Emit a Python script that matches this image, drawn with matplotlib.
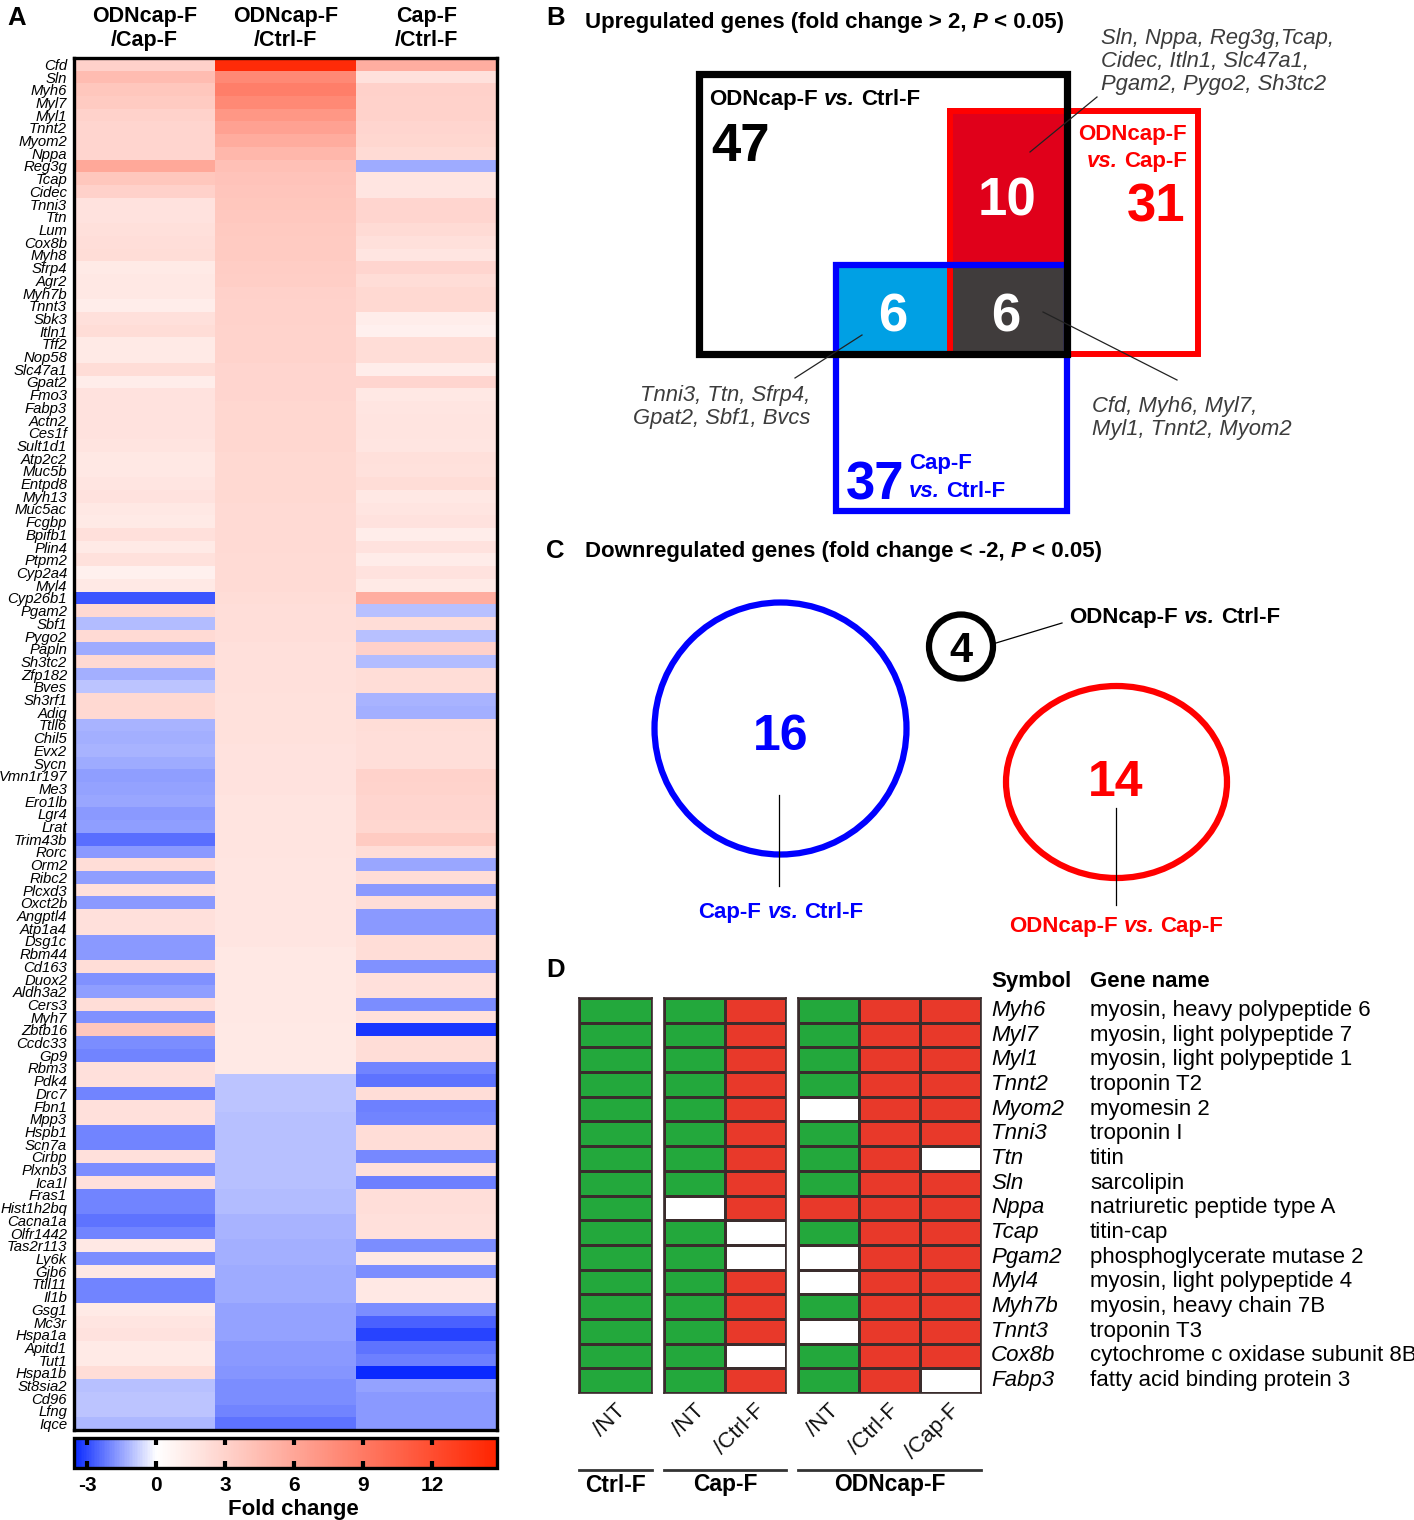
import numpy as np
import matplotlib
matplotlib.use('Agg')
import matplotlib.pyplot as plt
from matplotlib.colors import LinearSegmentedColormap, ListedColormap, Normalize
from matplotlib.patches import Rectangle, Ellipse
import matplotlib.transforms as mtransforms
import matplotlib.font_manager as fm
import matplotlib.cm as cm

# ---------------- DATA ----------------
genes = ["Cfd", "Sln", "Myh6", "Myl7", "Myl1", "Tnnt2", "Myom2", "Nppa", "Reg3g", "Tcap",
         "Cidec", "Tnni3", "Ttn", "Lum", "Cox8b", "Myh8", "Sfrp4", "Agr2", "Myh7b", "Tnnt3",
         "Sbk3", "Itln1", "Tff2", "Nop58", "Slc47a1", "Gpat2", "Fmo3", "Fabp3", "Actn2", "Ces1f",
         "Sult1d1", "Atp2c2", "Muc5b", "Entpd8", "Myh13", "Muc5ac", "Fcgbp", "Bpifb1", "Plin4", "Ptpm2",
         "Cyp2a4", "Myl4", "Cyp26b1", "Pgam2", "Sbf1", "Pygo2", "Papln", "Sh3tc2", "Zfp182", "Bves",
         "Sh3rf1", "Adig", "Ttll6", "Chil5", "Evx2", "Sycn", "Vmn1r197", "Me3", "Ero1lb", "Lgr4",
         "Lrat", "Trim43b", "Rorc", "Orm2", "Ribc2", "Plcxd3", "Oxct2b", "Angptl4", "Atp1a4", "Dsg1c",
         "Rbm44", "Cd163", "Duox2", "Aldh3a2", "Cers3", "Myh7", "Zbtb16", "Ccdc33", "Gp9", "Rbm3",
         "Pdk4", "Drc7", "Fbn1", "Mpp3", "Hspb1", "Scn7a", "Cirbp", "Plxnb3", "Ica1l", "Fras1",
         "Hist1h2bq", "Cacna1a", "Olfr1442", "Tas2r113", "Ly6k", "Gjb6", "Ttll11", "Il1b", "Gsg1", "Mc3r",
         "Hspa1a", "Apitd1", "Tut1", "Hspa1b", "St8sia2", "Cd96", "Lfng", "Iqce"]

fc_odn_vs_cap = [3.1, 4.5, 3.8, 3.5, 3.0, 2.8, 2.8, 2.8, 5.9, 3.8,
                 3.1, 1.9, 1.9, 2.1, 2.2, 2.3, 1.4, 1.6, 1.6, 1.2,
                 2.1, 2.3, 1.4, 1.4, 2.3, 1.2, 1.9, 1.9, 1.9, 1.9,
                 1.8, 1.6, 1.6, 1.7, 1.9, 1.6, 1.4, 2.1, 1.4, 2.0,
                 1.0, 1.5, -2.8, 2.6, -1.1, 2.5, -1.4, 2.6, -1.3, -0.95,
                 2.6, 2.6, -1.2, -1.3, -1.2, -1.4, -1.6, -1.5, -1.45, -1.7,
                 -1.6, -2.35, -1.7, 2.3, -1.6, 2.1, -1.7, 2.1, 2.1, -1.7,
                 -1.7, 2.3, -1.8, -1.6, 2.3, -1.8, 3.8, -1.9, -2.05, 2.1,
                 2.1, -2.0, 2.1, 2.1, -2.0, -2.0, 2.1, -1.9, 2.1, -2.0,
                 -2.05, -2.3, -2.05, 1.6, -1.9, 1.6, -2.05, -2.05, 1.4, 1.7,
                 1.9, 1.4, 1.4, 2.3, -1.0, -0.95, -0.95, -1.15]

fc_odn_vs_ctrl = [14.3, 8.0, 8.7, 8.0, 7.0, 6.3, 5.6, 4.9, 4.2, 4.0,
                  3.9, 3.8, 3.7, 3.6, 3.5, 3.5, 3.4, 3.3, 3.1, 3.0,
                  3.0, 2.9, 2.9, 2.9, 2.8, 2.8, 2.8, 2.7, 2.7, 2.7,
                  2.7, 2.6, 2.6, 2.6, 2.6, 2.5, 2.5, 2.5, 2.5, 2.4,
                  2.4, 2.4, 2.3, 2.2, 2.2, 2.2, 2.1, 2.1, 2.1, 2.1,
                  2.0, 2.0, 2.0, 2.0, 1.9, 1.9, 1.9, 1.9, 1.8, 1.8,
                  1.8, 1.8, 1.8, 1.7, 1.7, 1.7, 1.7, 1.7, 1.7, 1.7,
                  1.6, 1.6, 1.6, 1.6, 1.6, 1.6, 1.5, 1.5, 1.5, 1.5,
                  -0.95, -0.95, -0.95, -1.0, -1.0, -1.0, -1.0, -1.05, -1.05, -1.1,
                  -1.1, -1.2, -1.25, -1.3, -1.3, -1.35, -1.4, -1.4, -1.5, -1.5,
                  -1.55, -1.7, -1.7, -1.75, -1.9, -1.9, -2.0, -2.3]

fc_cap_vs_ctrl = [5.5, 2.0, 3.1, 3.0, 3.0, 2.8, 2.7, 2.4, -1.4, 1.7,
                  1.7, 2.8, 2.8, 2.4, 2.1, 1.7, 2.8, 2.3, 2.6, 2.6,
                  1.2, 1.0, 2.3, 2.3, 1.2, 2.8, 1.6, 1.7, 1.8, 1.8,
                  1.7, 2.1, 2.0, 2.3, 1.6, 1.7, 1.9, 1.2, 1.9, 1.3,
                  1.9, 1.4, 5.5, -1.0, 2.3, -1.0, 3.1, -1.1, 2.3, 2.3,
                  -1.25, -1.3, 2.3, 2.2, 2.2, 2.2, 3.0, 2.9, 2.8, 2.8,
                  2.7, 3.5, 2.3, -1.45, 2.3, -1.65, 2.3, -1.7, -1.7, 2.3,
                  2.3, -1.8, 2.1, 2.1, -1.9, 2.1, -3.3, 2.3, 2.3, -2.0,
                  -2.3, 2.3, -2.1, -2.05, 2.3, 2.3, -1.95, 2.1, -2.1, 2.2,
                  2.2, 2.1, 2.1, -1.9, 1.6, -1.9, 1.6, 1.6, -1.9, -2.6,
                  -3.1, -2.3, -2.1, -3.5, -1.5, -1.65, -1.7, -1.7]

heat_columns = ["ODNcap-F\n/Cap-F", "ODNcap-F\n/Ctrl-F", "Cap-F\n/Ctrl-F"]
cbar_ticks = [-3, 0, 3, 6, 9, 12]
fc_min, fc_max = -3.57, 14.83

# Venn (upregulated) counts
up_counts = [47, 10, 31, 6, 6, 37]   # ODN/Ctrl only, ODN/Ctrl&ODN/Cap, ODN/Cap only, ODN/Ctrl&Cap/Ctrl, all three, Cap/Ctrl only
# Downregulated counts
down_counts = [16, 4, 14]            # Cap/Ctrl, ODN/Ctrl, ODN/Cap

# Panel D
d_symbols = ["Myh6", "Myl7", "Myl1", "Tnnt2", "Myom2", "Tnni3", "Ttn", "Sln", "Nppa", "Tcap",
             "Pgam2", "Myl4", "Myh7b", "Tnnt3", "Cox8b", "Fabp3"]
d_names = ["myosin, heavy polypeptide 6", "myosin, light polypeptide 7", "myosin, light polypeptide 1",
           "troponin T2", "myomesin 2", "troponin I", "titin", "sarcolipin", "natriuretic peptide type A",
           "titin-cap", "phosphoglycerate mutase 2", "myosin, light polypeptide 4", "myosin, heavy chain 7B",
           "troponin T3", "cytochrome c oxidase subunit 8B", "fatty acid binding protein 3"]
# 1 = up (red), -1 = down (green), 0 = unchanged (white)
ctrl_nt = [-1] * 16
cap_nt = [-1, -1, -1, -1, -1, -1, -1, -1, 0, -1, -1, -1, -1, -1, -1, -1]
cap_ctrl = [1, 1, 1, 1, 1, 1, 1, 1, 1, 0, 0, 1, 1, 1, 0, 1]
odn_nt = [-1, -1, -1, -1, 0, -1, -1, -1, 1, -1, 0, 0, -1, 0, -1, -1]
odn_ctrl = [1] * 16
odn_cap = [1, 1, 1, 1, 1, 1, 0, 1, 1, 1, 1, 1, 1, 1, 1, 0]
d_groups = ["Ctrl-F", "Cap-F", "ODNcap-F"]
d_cols = [["/NT"], ["/NT", "/Ctrl-F"], ["/NT", "/Ctrl-F", "/Cap-F"]]

# ---------------- SETUP ----------------
names = {f.name for f in fm.fontManager.ttflist}
SANS = 'Liberation Sans'
COND = 'Liberation Sans Narrow' if 'Liberation Sans Narrow' in names else 'Liberation Sans'
plt.rcParams['font.family'] = [SANS, 'DejaVu Sans']

W, H = 1414, 1520
fig = plt.figure(figsize=(W / 100, H / 100), dpi=100)


def px_axes(l, t, r, b, **kw):
    return fig.add_axes([l / W, 1 - b / H, (r - l) / W, (b - t) / H], **kw)


# ---------------- PANEL A ----------------
wpos = (0 - fc_min) / (fc_max - fc_min)
cmap = LinearSegmentedColormap.from_list('fc', [(0, '#0a2aff'), (wpos, '#ffffff'), (1, '#ff2400')])
norm = Normalize(vmin=fc_min, vmax=fc_max)

axA = px_axes(74, 58, 497, 1430)
data = np.column_stack([fc_odn_vs_cap, fc_odn_vs_ctrl, fc_cap_vs_ctrl])
axA.imshow(data, cmap=cmap, norm=norm, aspect='auto', interpolation='nearest')
axA.set_yticks(range(len(genes)))
axA.set_yticklabels(genes, fontstyle='italic', fontsize=10.7)
axA.tick_params(axis='y', length=0, pad=5)
axA.xaxis.tick_top()
axA.set_xticks(range(3))
axA.set_xticklabels(heat_columns, fontweight='bold', fontsize=15.5, linespacing=1.2)
axA.tick_params(axis='x', length=0, pad=5)
for sp in axA.spines.values():
    sp.set_linewidth(2.4)

cax = px_axes(74, 1438, 497, 1468)
cb = fig.colorbar(cm.ScalarMappable(norm=norm, cmap=cmap), cax=cax, orientation='horizontal')
cb.set_ticks(cbar_ticks)
cb.ax.set_xticklabels([str(t) for t in cbar_ticks], fontweight='bold', fontsize=15)
cb.ax.tick_params(axis='x', direction='in', length=5, width=3, top=True, bottom=True, pad=6)
cb.outline.set_linewidth(2.4)

# ---------------- OVERLAY ----------------
ov = fig.add_axes([0, 0, 1, 1], zorder=5)
ov.set_xlim(0, W)
ov.set_ylim(H, 0)
ov.axis('off')
renderer = fig.canvas.get_renderer()


def measure(s, **kw):
    t = ov.text(0, 0, s, **kw)
    w = t.get_window_extent(renderer).width
    t.remove()
    return w


def rich(x, yc, parts, ha='left', size=14, family=COND, weight='bold', color='black', style='normal'):
    """parts: list of (text, override dict). yc is the visual cap-centre."""
    base = dict(fontsize=size, family=family, fontweight=weight, color=color, fontstyle=style)
    sp = measure('a a', **base) - measure('aa', **base)
    items = []
    for s, o in parts:
        kw = dict(base)
        kw.update(o)
        if s == ' ':
            items.append((None, kw, sp))
        else:
            items.append((s, kw, measure(s, **kw)))
    total = sum(w for _, _, w in items)
    x0 = {'left': x, 'center': x - total / 2, 'right': x - total}[ha]
    yb = yc + 0.36 * size * 100 / 72
    for s, kw, w in items:
        if s is not None:
            ov.text(x0, yb, s, ha='left', va='baseline', **kw)
        x0 += w


def vs_parts(a, b):
    return [(a, {}), (' ', {}), ('vs.', {'fontstyle': 'italic'}), (' ', {}), (b, {})]


LBL = 16
# panel letters
for letter, x, y in [('A', 7, 16), ('B', 546, 16), ('C', 546, 549), ('D', 546, 968)]:
    rich(x, y, [(letter, {})], size=18.5, family=SANS)

# ---------------- PANEL B ----------------
rich(585, 20, [("Upregulated genes (fold change > 2, ", {}), ("P", {'fontstyle': 'italic'}), (" < 0.05)", {})], size=16)

RED, BLUE, BLACK = '#ff0000', '#0000ff', '#000000'
# fills
ov.add_patch(Rectangle((947, 108), 1065 - 947, 265 - 108, facecolor='#e0001a', edgecolor='none', zorder=1))
ov.add_patch(Rectangle((836, 266), 949 - 836, 352 - 266, facecolor='#00a0e4', edgecolor='none', zorder=1))
ov.add_patch(Rectangle((949, 266), 1065 - 949, 352 - 266, facecolor='#403c3c', edgecolor='none', zorder=1))
# outlines
ov.add_patch(Rectangle((949.5, 110.5), 1198 - 949.5, 354 - 110.5, facecolor='none', edgecolor=RED, lw=4.3, zorder=2))
ov.add_patch(Rectangle((835.5, 265), 1067 - 835.5, 510.5 - 265, facecolor='none', edgecolor=BLUE, lw=4.5, zorder=3))
ov.add_patch(Rectangle((698.5, 73.5), 1067 - 698.5, 353.5 - 73.5, facecolor='none', edgecolor=BLACK, lw=5.2, zorder=4))

rich(709, 97, vs_parts("ODNcap-F", "Ctrl-F"), size=LBL)
rich(711, 142, [(str(up_counts[0]), {})], size=38)
rich(1007, 196, [(str(up_counts[1]), {})], size=38, ha='center', color='white')
rich(1187, 132, [("ODNcap-F", {})], ha='right', size=LBL, color=RED)
rich(1187, 159, [("vs.", {'fontstyle': 'italic'}), (' ', {}), ("Cap-F", {})], ha='right', size=LBL, color=RED)
rich(1185, 202, [(str(up_counts[2]), {})], ha='right', size=38, color=RED)
rich(893, 313, [(str(up_counts[3]), {})], ha='center', size=38, color='white')
rich(1006, 313, [(str(up_counts[4]), {})], ha='center', size=38, color='white')
rich(846, 481, [(str(up_counts[5]), {})], size=38, color=BLUE)
rich(909, 461, [("Cap-F", {})], size=LBL, color=BLUE)
rich(909, 489, [("vs.", {'fontstyle': 'italic'}), (' ', {}), ("Ctrl-F", {})], size=LBL, color=BLUE)

GRAY = '#3c3c3c'
for i, line in enumerate(["Sln, Nppa, Reg3g,Tcap,", "Cidec, Itln1, Slc47a1,", "Pgam2, Pygo2, Sh3tc2"]):
    rich(1101, 36 + 23 * i, [(line, {})], size=15.8, weight='normal', style='italic', color=GRAY)
for i, line in enumerate(["Tnni3, Ttn, Sfrp4,", "Gpat2, Sbf1, Bvcs"]):
    rich(810, 393 + 23 * i, [(line, {})], ha='right', size=15.8, weight='normal', style='italic', color=GRAY)
for i, line in enumerate(["Cfd, Myh6, Myl7,", "Myl1, Tnnt2, Myom2"]):
    rich(1092, 404 + 23 * i, [(line, {})], size=15.8, weight='normal', style='italic', color=GRAY)
ov.plot([1030, 1097], [152, 97], color='#222222', lw=0.9, zorder=6)
ov.plot([862, 795], [335, 378], color='#222222', lw=0.9, zorder=6)
ov.plot([1043, 1177], [312, 380], color='#222222', lw=0.9, zorder=6)

# ---------------- PANEL C ----------------
rich(585, 549, [("Downregulated genes (fold change < -2, ", {}), ("P", {'fontstyle': 'italic'}), (" < 0.05)", {})], size=16)
ov.add_patch(Ellipse((780.5, 728.5), 252, 252, facecolor='none', edgecolor=BLUE, lw=4.5))
ov.add_patch(Ellipse((1116.5, 782), 221, 192, facecolor='none', edgecolor=RED, lw=4.5))
ov.add_patch(Ellipse((961, 646.5), 64, 64, facecolor='none', edgecolor=BLACK, lw=4.5))
rich(781, 732, [(str(down_counts[0]), {})], ha='center', size=36, color=BLUE)
rich(961, 647, [(str(down_counts[1]), {})], ha='center', size=30, color=BLACK)
rich(1116, 778, [(str(down_counts[2]), {})], ha='center', size=36, color=RED)
ov.plot([779, 779], [795, 886], color='black', lw=0.9)
ov.plot([1116, 1116], [808, 905], color='black', lw=0.9)
ov.plot([996, 1062], [643, 623], color='black', lw=0.9)
rich(1069, 615, vs_parts("ODNcap-F", "Ctrl-F"), size=LBL)
rich(781, 910, vs_parts("Cap-F", "Ctrl-F"), ha='center', size=LBL, color=BLUE)
rich(1116, 924, vs_parts("ODNcap-F", "Cap-F"), ha='center', size=LBL, color=RED)

# ---------------- PANEL D ----------------
GREEN, DRED = '#23a83c', '#e8392a'
dcmap = ListedColormap([GREEN, '#ffffff', DRED])
blocks = [(579, 652, [ctrl_nt]), (664, 786, [cap_nt, cap_ctrl]), (798, 981, [odn_nt, odn_ctrl, odn_cap])]
top, bot = 998, 1393
nrow = len(d_symbols)
axes_d = []
for (l, r, cols), grp, labels in zip(blocks, d_groups, d_cols):
    ax = px_axes(l, top, r, bot)
    arr = np.array(cols).T
    ax.pcolormesh(np.arange(arr.shape[1] + 1), np.arange(nrow + 1), arr, cmap=dcmap, vmin=-1.5, vmax=1.5,
                  edgecolors='#3a2c2c', linewidth=1.0)
    ax.set_xlim(0, arr.shape[1])
    ax.set_ylim(nrow, 0)
    ax.set_xticks([])
    ax.set_yticks([])
    for sp in ax.spines.values():
        sp.set_linewidth(1.2)
        sp.set_color('#3a2c2c')
    bt = mtransforms.blended_transform_factory(ax.transData, ax.transAxes)
    hgt = bot - top
    for j, lab in enumerate(labels):
        ax.text(j + 0.5 + 14 / ((r - l) / arr.shape[1]), -(1400 - bot) / hgt, lab, transform=bt,
                rotation=45, ha='right', va='top', fontsize=16, color='#111111')
    ax.plot([0, 1], [-(1470 - bot) / hgt] * 2, transform=ax.transAxes, clip_on=False, color='#333333', lw=2)
    ax.text(0.5, -(1485 - bot) / hgt, grp, transform=ax.transAxes, ha='center', va='center',
            fontsize=16.5, fontweight='bold')
    axes_d.append((ax, l, r))

ax3, l3, r3 = axes_d[-1]
bt3 = mtransforms.blended_transform_factory(ax3.transAxes, ax3.transData)
xs = (991 - l3) / (r3 - l3)
xn = (1090 - l3) / (r3 - l3)
ax3.text(xs, -0.65, "Symbol", transform=bt3, fontsize=16, fontweight='bold', va='center', ha='left')
ax3.text(xn, -0.65, "Gene name", transform=bt3, fontsize=16, fontweight='bold', va='center', ha='left')
for i, (s, n) in enumerate(zip(d_symbols, d_names)):
    ax3.text(xs, i + 0.5, s, transform=bt3, fontsize=16, fontstyle='italic', va='center', ha='left')
    ax3.text(xn, i + 0.5, n, transform=bt3, fontsize=16, va='center', ha='left')

rich(293, 1507, [("Fold change", {})], ha='center', size=16, family=SANS)

fig.savefig('out.png', dpi=100)
